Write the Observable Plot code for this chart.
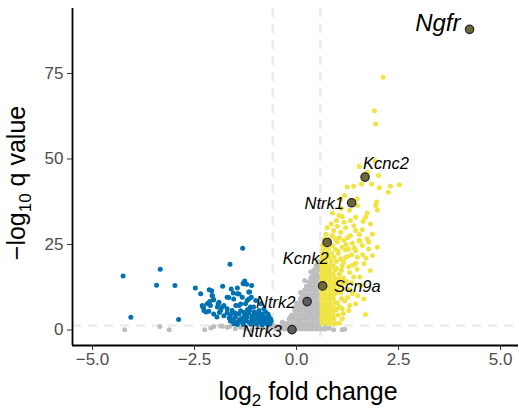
<!DOCTYPE html>
<html><head><meta charset="utf-8">
<script src="https://cdn.jsdelivr.net/npm/d3@7"></script>
<script src="https://cdn.jsdelivr.net/npm/@observablehq/plot@0.6"></script>
<style>
body{margin:0;background:#fff;}
#chart{width:519px;height:416px;}
</style></head><body><div id="chart"></div>
<script>
// ---- data (log2 fold change, -log10 q value) ----
const nsPts = [
[-4.21,0.1],[-3.35,1.0],[-3.12,0.1],[-2.25,0.1],[-2.10,0.6],[-2.03,1.0],[-1.86,1.2],[-1.82,1.1],[-1.70,0.8],[-1.64,1.0],
[-1.50,0.4],[-1.37,0.8],[-1.25,0.3],[-1.09,0.1],[-0.95,0.9],[-0.84,0.8],[-0.72,0.3],[-0.62,1.1],[-0.56,1.3],[0.91,0.1],
[1.12,0.1],[1.18,0.2],[0.80,0.5],[0.70,0.9],
[-0.50,0.3],[-0.40,0.3],[-0.30,0.3],[-0.20,0.3],[-0.10,0.3],[0.00,0.3],[0.10,0.3],[0.20,0.3],[0.30,0.3],[0.40,0.3],[0.50,0.3],[0.60,0.3],[0.70,0.3],
[-0.45,1.0],[-0.35,1.0],[-0.25,1.0],[-0.15,1.0],[-0.05,1.0],[0.05,1.0],[0.15,1.0],[0.25,1.0],[0.35,1.0],[0.45,1.0],[0.55,1.0],
[-0.30,2.0],[-0.20,2.0],[-0.10,2.0],[0.00,2.0],[0.10,2.0],[0.20,2.0],[0.30,2.0],[0.40,2.0],[0.50,2.0],[0.56,2.0],
[-0.18,3.2],[-0.08,3.2],[0.02,3.2],[0.12,3.2],[0.22,3.2],[0.32,3.2],[0.42,3.2],[0.52,3.2],
[-0.12,4.4],[-0.02,4.4],[0.08,4.4],[0.18,4.4],[0.28,4.4],[0.38,4.4],[0.48,4.4],[0.56,4.4],
[-0.04,5.6],[0.06,5.6],[0.16,5.6],[0.26,5.6],[0.36,5.6],[0.46,5.6],[0.55,5.6],
[0.02,6.8],[0.12,6.8],[0.22,6.8],[0.32,6.8],[0.42,6.8],[0.52,6.8],
[0.06,8.0],[0.16,8.0],[0.26,8.0],[0.36,8.0],[0.46,8.0],[0.56,8.0],
[0.10,9.2],[0.20,9.2],[0.30,9.2],[0.40,9.2],[0.50,9.2],
[0.14,10.4],[0.24,10.4],[0.34,10.4],[0.44,10.4],[0.54,10.4],
[0.20,11.6],[0.30,11.6],[0.40,11.6],[0.50,11.6],
[0.24,12.8],[0.34,12.8],[0.44,12.8],[0.54,12.8],
[0.30,14.0],[0.40,14.0],[0.50,14.0],
[0.35,15.2],[0.45,15.2],[0.55,15.2],
[0.40,16.4],[0.50,16.4],[0.44,17.6],[0.54,17.6],[0.48,18.8],[0.56,18.8],[0.53,20.0],
[-0.35,2.3],[-0.15,3.7],[-0.05,6.5],[0.00,7.8],[0.10,11.0],[0.20,14.5],[0.35,17.0],
[0.05,2.6],[0.25,3.8],[0.45,6.2],[0.38,9.8],[0.48,12.2],[0.15,7.4],[0.30,5.0],[0.52,15.8]
];
const downPts = [
[-4.25,15.8],[-3.34,17.8],[-3.43,13.1],[-2.98,13.0],[-4.06,3.7],[-2.89,3.1],[-1.32,23.9],[-1.63,19.2],
[-2.48,12.3],[-2.35,10.6],[-2.14,11.8],[-2.08,11.5],[-2.06,10.0],[-2.03,8.9],[-2.13,8.3],[-2.16,7.7],[-2.30,6.9],
[-2.28,6.6],[-2.22,5.3],[-1.92,7.7],[-1.89,5.1],[-1.81,12.8],[-1.60,12.0],[-1.45,12.3],[-1.27,14.3],[-1.22,13.4],
[-1.10,13.0],[-1.30,13.5],[-1.31,13.7],[-1.15,11.1],[-1.41,10.5],[-1.55,10.8],[-1.66,9.5],[-2.07,10.1],[-2.04,8.8],
[-2.19,7.7],[-2.31,7.2],[-2.27,5.7],[-2.15,5.5],[-1.90,8.1],[-1.78,7.2],[-1.70,6.2],[-1.58,5.7],[-1.62,4.2],
[-1.50,3.7],[-1.41,4.7],[-1.29,5.2],[-1.21,3.7],[-1.09,4.2],[-1.00,3.3],[-0.92,2.3],[-0.84,1.5],[-0.80,3.7],
[-0.72,2.8],[-0.65,1.8],[-1.17,2.3],[-1.33,2.3],[-1.45,2.3],[-1.54,1.8],[-1.62,2.6],[-1.78,4.2],[-1.86,5.7],
[-1.94,6.7],[-2.03,4.7],[-1.41,7.2],[-1.25,7.7],[-1.17,9.1],[-1.33,9.6],[-1.54,9.1],[-1.70,9.6],[-1.45,10.6],
[-1.17,11.1],[-1.05,6.7],[-0.92,5.7],[-0.80,6.2],[-0.88,7.7],[-1.00,8.6],[-0.70,4.7],[-2.11,7.2],[-0.64,3.3],
[-1.49,7.2],[-1.37,7.6],[-1.13,6.7],[-0.96,5.0],[-0.88,4.3],[-0.76,5.3],[-0.68,4.0],[-1.25,4.8],[-1.37,5.6],
[-1.58,5.0],[-1.82,6.7],[-1.21,8.6],[-1.11,9.6],[-1.25,2.8],[-1.05,2.3],[-0.88,2.8],[-0.62,2.6],[-0.98,1.8],
[-1.12,1.7],[-1.30,1.6],[-0.74,2.0],[-1.04,5.3],[-0.84,4.7],[-1.15,5.7],[-0.95,3.8],[-1.35,3.4],[-1.55,3.0],
[-1.50,5.0],[-1.40,3.0],[-1.20,6.0],[-1.10,3.0],[-0.90,3.3],[-0.75,3.6],[-0.70,1.6],[-0.86,2.0],[-1.00,4.6],
[-1.28,4.0],[-1.65,3.5],[-1.70,5.0],[-1.95,3.8],[-0.78,2.6],[-1.18,4.9],[-1.45,1.6],[-0.66,2.3]
];
const upPts = [
[2.12,73.9],[1.91,64.1],[1.94,60.2],[1.54,47.8],[1.92,49.4],[1.74,46.1],[2.01,45.2],[2.52,42.5],[2.30,42.0],
[2.03,41.6],[2.25,40.3],[1.84,42.7],[1.59,42.7],[1.40,42.0],[1.24,41.8],[1.18,39.3],[1.96,37.4],[1.94,36.4],
[1.98,35.1],[1.73,34.2],[1.69,33.0],[1.49,36.4],[1.45,33.0],[1.12,33.2],[1.04,33.5],[0.88,34.2],[1.63,31.8],
[1.81,31.0],[1.32,32.0],[1.16,31.5],[1.00,30.3],[0.75,29.9],[0.91,29.1],[1.20,29.9],[1.45,29.1],[1.61,29.3],
[1.54,27.9],[1.32,27.6],[1.08,28.6],[0.88,27.6],[1.86,28.1],[1.73,26.7],[1.53,26.2],[1.37,25.4],[1.16,26.2],
[1.00,25.7],[1.12,24.2],[1.28,23.7],[1.45,23.2],[1.77,23.7],[1.61,24.7],[0.88,24.7],[1.08,38.2],[1.49,38.4],
[1.98,24.2],[1.77,25.7],[1.86,21.8],[1.49,21.3],[1.65,19.4],[1.81,17.4],[1.57,13.0],[1.20,12.0],[1.37,10.6],
[1.65,9.1],[1.45,7.7],[1.69,4.5],[1.28,5.7],[1.12,3.3],[0.91,1.8],
[0.62,2.0],[0.72,2.0],[0.82,2.0],[0.95,2.0],[1.05,2.0],
[0.62,3.2],[0.72,3.2],[0.82,3.2],[0.92,3.2],
[0.62,4.4],[0.70,4.4],[0.80,4.4],[0.90,4.4],[1.02,4.4],
[0.62,5.6],[0.72,5.6],[0.82,5.6],[0.92,5.6],
[0.62,6.8],[0.70,6.8],[0.80,6.8],[0.90,6.8],[1.05,6.8],
[0.62,8.0],[0.72,8.0],[0.82,8.0],[0.94,8.0],
[0.62,9.2],[0.70,9.2],[0.80,9.2],[0.90,9.2],[1.10,9.2],
[0.62,10.4],[0.72,10.4],[0.82,10.4],[0.92,10.4],
[0.62,11.6],[0.70,11.6],[0.80,11.6],[0.90,11.6],[1.02,11.6],
[0.72,12.8],[0.82,12.8],[0.92,12.8],[1.06,12.8],
[0.62,14.0],[0.70,14.0],[0.80,14.0],[0.90,14.0],[1.00,14.0],
[0.62,15.2],[0.72,15.2],[0.82,15.2],[0.94,15.2],[1.15,15.2],
[0.62,16.4],[0.70,16.4],[0.80,16.4],[0.90,16.4],[1.05,16.4],
[0.62,17.6],[0.72,17.6],[0.82,17.6],[0.95,17.6],
[0.62,18.8],[0.70,18.8],[0.80,18.8],[0.90,18.8],[1.12,18.8],
[0.62,20.0],[0.72,20.0],[0.84,20.0],[0.98,20.0],
[0.62,21.2],[0.70,21.2],[0.80,21.2],[0.92,21.2],[1.20,21.2],
[0.64,22.4],[0.74,22.4],[0.86,22.4],[1.02,22.4],
[0.66,23.6],[0.78,23.6],[0.95,23.6],[0.64,24.8],[0.72,24.8],
[0.68,26.5],[0.80,26.5],[0.95,26.5],[0.72,28.0],
[1.22,14.2],[1.30,16.8],[1.38,19.0],[1.25,21.5],[1.10,17.5],[1.18,8.5],[1.35,13.8],[1.48,17.8],[1.02,23.0],
[1.55,15.5],[1.42,24.0],[1.25,27.0],[1.62,22.0],[0.98,6.0],[1.08,10.8],[0.95,13.2],[1.15,4.8],[1.50,10.0],
[1.00,8.0],[1.12,6.2],[1.25,9.5],[1.30,11.8],[1.05,15.0],[1.15,19.8],[1.28,18.5],[1.08,20.8],[1.20,23.5],
[1.35,22.0],[0.98,18.0],[1.40,15.5],[1.12,13.5],[1.00,11.0],[1.30,7.2],[1.22,25.0],[1.05,27.0],[0.85,31.0],
[0.98,32.0],[1.45,19.5],[1.55,26.0],[1.70,21.0],[1.10,35.5],[1.30,35.0],[1.40,30.5]
];
const genes   = ["Ngfr","Kcnc2","Ntrk1","Kcnk2","Scn9a","Ntrk2","Ntrk3"];
const geneLfc = [4.24, 1.68, 1.35, 0.75, 0.64, 0.26, -0.11];
const geneQ   = [87.9, 44.7, 37.2, 25.6, 12.9, 8.3, 0.1];
const xTicks = [-5, -2.5, 0, 2.5, 5];
const yTicks = [0, 25, 50, 75];
const lfcCut = [-0.585, 0.585];
const qCut = [1.301];

// ---- styles ----
const C_UP = "#F0E442", C_DOWN = "#0072B2", C_NS = "#BEBEBE";
const FONT = "'Liberation Sans', Arial, Helvetica, sans-serif";
const labelStyle = {
  Ngfr:  {anchor:"end",   dx:-9,  dy:-6,  size:24},
  Kcnc2: {anchor:"start", dx:-2,  dy:-13.7, size:16.5},
  Ntrk1: {anchor:"end",   dx:-7.7,dy:0.7, size:16.5},
  Kcnk2: {anchor:"end",   dx:1.6, dy:16.7, size:16.5},
  Scn9a: {anchor:"start", dx:11.3,dy:1.1, size:16.5},
  Ntrk2: {anchor:"end",   dx:-11.7,dy:1,  size:16.5},
  Ntrk3: {anchor:"end",   dx:-10, dy:2.1, size:16.5}
};

const toRows = arr => arr.map(([x, y]) => ({x, y}));
const geneRows = genes.map((g, i) => ({gene: g, x: geneLfc[i], y: geneQ[i]}));
const catColor = d => (Math.abs(d.x) > lfcCut[1] && d.y > qCut[0]) ? (d.x > 0 ? C_UP : C_DOWN) : C_NS;

const xDom = [-5.49, 5.44], yDom = [-4.53, 94];
const fmt = d => (d < 0 ? "\u2212" : "") + Math.abs(d).toFixed(1);
const dash = {stroke: "#ebebeb", strokeWidth: 2.5, strokeDasharray: "9,7"};

const plot = Plot.plot({
  width: 519, height: 416,
  marginLeft: 72, marginRight: 1, marginTop: 8, marginBottom: 71,
  x: {domain: xDom}, y: {domain: yDom},
  style: {fontFamily: FONT, background: "white", overflow: "visible"},
  marks: [
    Plot.ruleX(lfcCut, dash),
    Plot.ruleY(qCut, dash),
    Plot.dot(toRows(nsPts),   {x: "x", y: "y", r: 2.5, fill: C_NS}),
    Plot.dot(toRows(downPts), {x: "x", y: "y", r: 2.5, fill: C_DOWN}),
    Plot.dot(toRows(upPts),   {x: "x", y: "y", r: 2.5, fill: C_UP}),
    Plot.dot(geneRows, {x: "x", y: "y", r: 4.2, fill: catColor}),
    Plot.dot(geneRows, {x: "x", y: "y", r: 4.2, fill: "#333", fillOpacity: 0.7, stroke: "#222", strokeWidth: 1.2}),
    ...genes.map(g => {
      const s = labelStyle[g];
      return Plot.text(geneRows.filter(d => d.gene === g), {
        x: "x", y: "y", text: "gene", textAnchor: s.anchor, dx: s.dx, dy: s.dy,
        fontSize: s.size, fontStyle: "italic", fontFamily: FONT, fill: "#000"
      });
    }),
    Plot.ruleX([xDom[0]], {stroke: "#000", strokeWidth: 1.8}),
    Plot.ruleY([yDom[0]], {stroke: "#000", strokeWidth: 1.8}),
    Plot.axisX({ticks: xTicks, tickFormat: fmt, tickSize: 5, tickPadding: 2, stroke: "#333", fill: "#4D4D4D", fontSize: 17, label: null}),
    Plot.axisY({ticks: yTicks, tickFormat: d => String(d), tickSize: 5, tickPadding: 4, stroke: "#333", fill: "#4D4D4D", fontSize: 17, label: null})
  ]
});
document.getElementById("chart").appendChild(plot);

// axis titles with subscripts
const svg = d3.select(plot);
const xt = svg.append("text").attr("x", 308).attr("y", 400).attr("text-anchor", "middle")
  .attr("font-family", FONT).attr("font-size", 25).attr("fill", "#000");
xt.append("tspan").text("log");
xt.append("tspan").attr("dy", 6).attr("font-size", 17).text("2");
xt.append("tspan").attr("dy", -6).text(" fold change");
const yt = svg.append("text").attr("transform", "translate(25,183) rotate(-90)").attr("text-anchor", "middle")
  .attr("font-family", FONT).attr("font-size", 25).attr("fill", "#000");
yt.append("tspan").text("\u2212log");
yt.append("tspan").attr("dy", 6).attr("font-size", 17).text("10");
yt.append("tspan").attr("dy", -6).text(" q value");
</script></body></html>
